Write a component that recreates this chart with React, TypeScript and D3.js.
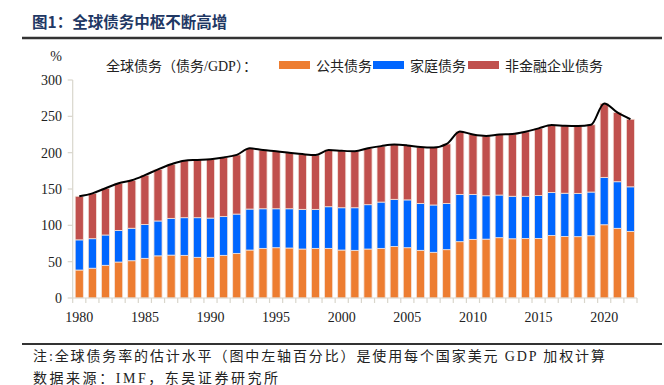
import React from 'react';
import * as d3 from 'd3';

const years = d3.range(1980, 2023);

// 公共债务 (% of GDP)
const publicDebt = [
  38.5, 41, 45, 49.5, 51.3, 54.6, 58, 59, 58.7, 56,
  56, 58.7, 61.4, 66, 68.3, 69.2, 68.8, 67.4, 68.3, 68.3,
  66, 65.6, 67.4, 68.3, 70.8, 69.2, 65.6, 62.9, 66.5, 77.5,
  80.7, 81, 83, 81.5, 81.8, 82, 86, 84.6, 84.4, 85.7,
  100.8, 95.9, 91.7,
];

// 家庭债务
const householdDebt = [
  41.5, 40.6, 41.7, 43.5, 44.7, 46.4, 48, 50.6, 51.8, 54.5,
  54, 53.3, 54.1, 56.4, 54.5, 53.6, 54, 54.6, 53.7, 57.3,
  58.2, 58.6, 61, 63.7, 65, 65.8, 64.4, 65.1, 63.5, 65.1,
  61.9, 59.7, 58.7, 58.5, 58.2, 59, 59.3, 59.6, 59.6, 60.1,
  65.2, 64.1, 61.3,
];

// 非金融企业债务
const corporateDebt = [
  60, 62.4, 64.3, 65, 66, 68, 71, 74.4, 78.5, 79.5,
  81, 81.5, 81.5, 83.6, 80.8, 79.2, 77.2, 76, 74.7, 78,
  78.4, 77.8, 77.6, 77, 75.4, 75, 77.7, 79, 82, 86.4,
  82.4, 82.3, 83.3, 85.6, 88.7, 92.4, 92.7, 92.8, 92.6, 92.6,
  101.8, 95.4, 93,
];

const yTicks = [0, 50, 100, 150, 200, 250, 300];
const xLabels = [1980, 1985, 1990, 1995, 2000, 2005, 2010, 2015, 2020];

const seriesNames = ['公共债务', '家庭债务', '非金融企业债务'];
const colors = ['#ED7D31', '#0066FF', '#C0504D'];

const W = 664;
const H = 385;
const plot = { left: 72.7, right: 637, top: 80, bottom: 298 };

const serif = '"Liberation Serif", "Times New Roman", "Noto Sans CJK SC", serif';

export default function App() {
  const x = d3.scaleBand<number>()
    .domain(years)
    .range([plot.left, plot.right])
    .paddingInner(0.38)
    .paddingOuter(0.19);

  const y = d3.scaleLinear().domain([0, 300]).range([plot.bottom, plot.top]);

  const rows = years.map((yr, i) => ({
    year: yr,
    public: publicDebt[i],
    household: householdDebt[i],
    corporate: corporateDebt[i],
  }));

  const stacked = d3.stack<any>().keys(['public', 'household', 'corporate'])(rows);

  const totals = rows.map(d => ({ year: d.year, total: d.public + d.household + d.corporate }));
  const line = d3.line<{ year: number; total: number }>()
    .x(d => (x(d.year) as number) + x.bandwidth() / 2)
    .y(d => y(d.total))
    .curve(d3.curveMonotoneX);

  const step = x.step();
  const tickXs = d3.range(years.length + 1).map(i => plot.left + i * step);

  const axisColor = '#D9D6CC';

  return (
    <div style={{ position: 'absolute', left: 0, top: 0 }}>
      <svg width={W} height={H} style={{ display: 'block', background: '#fff' }}>
        {/* title */}
        <text x={32} y={28} fontSize={15.5} fontWeight="bold" fill="#1F3864"
          fontFamily='"Noto Sans CJK SC", sans-serif'>
          图1：全球债务中枢不断高增
        </text>
        <line x1={22} x2={662} y1={38} y2={38} stroke="#333" strokeWidth={2.5} />

        {/* legend */}
        <text x={106} y={70.5} fontSize={14} fill="#222" fontFamily={serif}>
          全球债务（债务/GDP）：
        </text>
        {[{ sx: 279, tx: 316 }, { sx: 373, tx: 410 }, { sx: 468, tx: 505 }].map((p, i) => (
          <g key={i}>
            <rect x={p.sx} y={61} width={31} height={8} fill={colors[i]} />
            <text x={p.tx} y={70.5} fontSize={14} fill="#222" fontFamily={serif}>
              {seriesNames[i]}
            </text>
          </g>
        ))}

        {/* y axis */}
        <text x={62} y={61} fontSize={14} textAnchor="end" fill="#222" fontFamily={serif}>%</text>
        <line x1={plot.left} x2={plot.left} y1={y(300)} y2={plot.bottom} stroke={axisColor} strokeWidth={1.2} />
        {yTicks.map(t => (
          <g key={t}>
            <line x1={plot.left - 5} x2={plot.left} y1={y(t)} y2={y(t)} stroke={axisColor} strokeWidth={1.2} />
            <text x={62} y={y(t) + 5} fontSize={14} textAnchor="end" fill="#222" fontFamily={serif}>{t}</text>
          </g>
        ))}

        {/* bars */}
        {stacked.map((layer, li) => (
          <g key={li} fill={colors[li]}>
            {layer.map((seg, i) => (
              <rect
                key={i}
                x={x(years[i])}
                y={y(seg[1])}
                width={x.bandwidth()}
                height={y(seg[0]) - y(seg[1])}
                stroke="#F4E4DC"
                strokeWidth={0.8}
              />
            ))}
          </g>
        ))}

        {/* total line */}
        <path d={line(totals) || ''} fill="none" stroke="#000" strokeWidth={2} />

        {/* x axis */}
        <line x1={plot.left} x2={plot.right} y1={plot.bottom} y2={plot.bottom} stroke={axisColor} strokeWidth={1.2} />
        {tickXs.map((tx, i) => (
          <line key={i} x1={tx} x2={tx} y1={plot.bottom} y2={plot.bottom + 5} stroke={axisColor} strokeWidth={1.2} />
        ))}
        {xLabels.map(yr => (
          <text key={yr} x={(x(yr) as number) + x.bandwidth() / 2} y={322} fontSize={14}
            textAnchor="middle" fill="#222" fontFamily={serif}>{yr}</text>
        ))}

        {/* footnotes */}
        <line x1={22} x2={662} y1={344} y2={344} stroke="#333" strokeWidth={2} />
        <text x={33} y={361} fontSize={14} fill="#222" fontFamily={serif} textLength={572} lengthAdjust="spacing">
          注:全球债务率的估计水平（图中左轴百分比）是使用每个国家美元 GDP 加权计算
        </text>
        <text x={33} y={383} fontSize={14} fill="#222" fontFamily={serif} textLength={245} lengthAdjust="spacing">
          数据来源：IMF，东吴证券研究所
        </text>
      </svg>
    </div>
  );
}
